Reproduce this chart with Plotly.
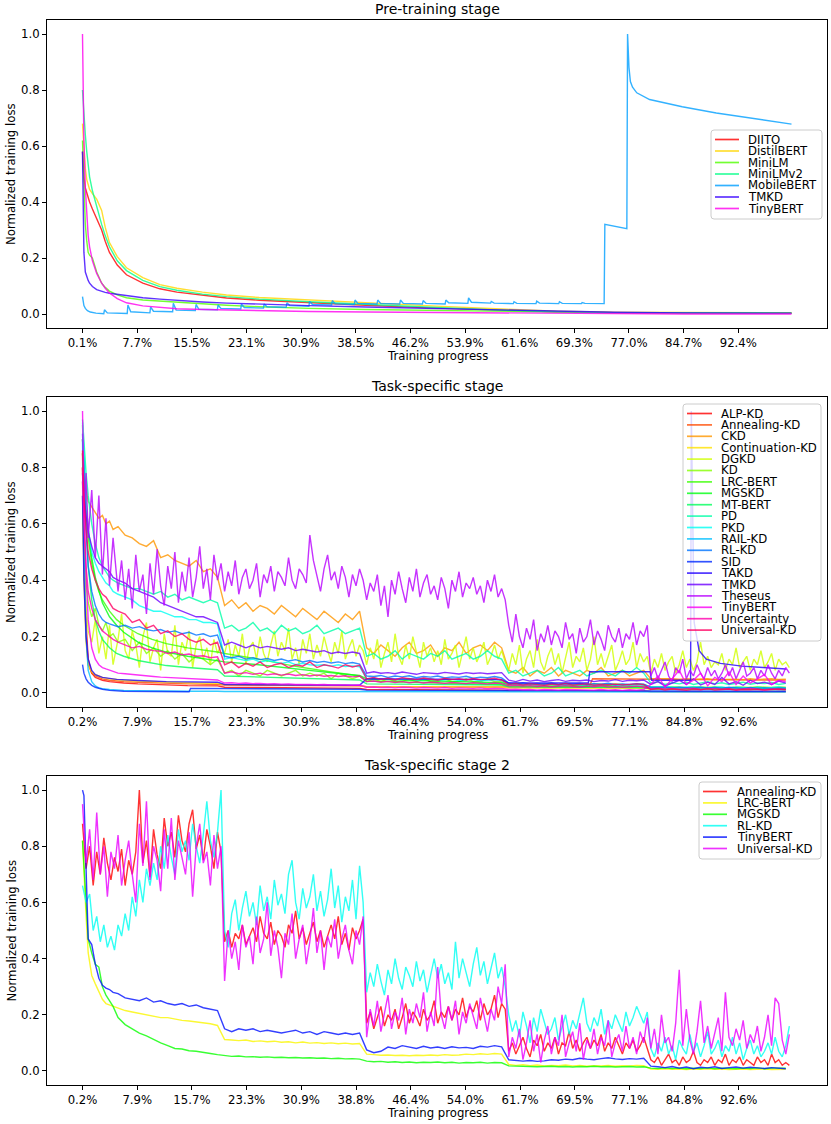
import numpy as np
import plotly.graph_objects as go
from plotly.subplots import make_subplots

# ------------------------------------------------------------------ data
# ---------- Panel 1: Pre-training stage ----------
P1_TICKVALS = [0.1 + 7.7 * i for i in range(13)]
P1_TICKTEXT = ['0.1%', '7.7%', '15.5%', '23.1%', '30.9%', '38.5%', '46.2%', '53.9%',
               '61.6%', '69.3%', '77.0%', '84.7%', '92.4%']
P1_NAMES = ['DIITO', 'DistilBERT', 'MiniLM', 'MiniLMv2', 'MobileBERT', 'TMKD', 'TinyBERT']

X1 = [0.1, 0.3, 0.5, 0.7, 0.9, 1.1, 1.5, 2.1, 2.8, 3.3, 3.9, 5.0, 6.3, 8.6, 11.0, 13.4,
      17.0, 20.4, 25.0, 32.0, 40.0, 50.0, 60.0, 67.0, 75.0, 85.0, 100.0]
DIITO_1 = [0.58, 0.49, 0.45, 0.43, 0.42, 0.40, 0.375, 0.34, 0.30, 0.26, 0.22, 0.175, 0.14, 0.11,
           0.09, 0.078, 0.066, 0.057, 0.049, 0.040, 0.031, 0.021, 0.012, 0.008, 0.005, 0.004, 0.003]
DISTILBERT_1 = [0.68, 0.58, 0.52, 0.48, 0.46, 0.445, 0.43, 0.41, 0.37, 0.31, 0.255, 0.205, 0.165,
                0.13, 0.105, 0.092, 0.078, 0.068, 0.059, 0.050, 0.040, 0.028, 0.017, 0.010, 0.006,
                0.005, 0.004]
MINILM_1 = [0.62, 0.42, 0.32, 0.26, 0.22, 0.21, 0.20, 0.15, 0.11, 0.095, 0.082, 0.068, 0.058, 0.050,
            0.046, 0.042, 0.036, 0.031, 0.026, 0.020, 0.016, 0.012, 0.009, 0.007, 0.005, 0.004, 0.003]
MINILMV2_1 = [0.80, 0.70, 0.64, 0.58, 0.53, 0.49, 0.44, 0.38, 0.32, 0.28, 0.24, 0.19, 0.155, 0.12,
              0.098, 0.085, 0.071, 0.062, 0.053, 0.044, 0.034, 0.023, 0.013, 0.008, 0.005, 0.004, 0.003]
TMKD_1 = [0.58, 0.22, 0.15, 0.13, 0.12, 0.11, 0.098, 0.087, 0.080, 0.077, 0.074, 0.070, 0.065, 0.058,
          0.053, 0.048, 0.043, 0.039, 0.035, 0.030, 0.025, 0.019, 0.013, 0.009, 0.006, 0.004, 0.003]
TINYBERT_1 = [1.0, 0.62, 0.45, 0.35, 0.28, 0.24, 0.19, 0.145, 0.11, 0.092, 0.075, 0.055, 0.040, 0.029,
              0.023, 0.019, 0.016, 0.014, 0.012, 0.009, 0.007, 0.005, 0.003, 0.002, 0.001, 0.0, 0.0]
MOBILE_X = [0.1, 0.3, 0.5, 0.8, 1.2, 2.0, 3.1,
            3.2, 3.6, 6.4, 6.5, 6.9, 9.6, 9.7, 10.1, 12.8, 12.9, 13.3, 16.0,
            16.1, 16.5, 19.1, 19.2, 19.6, 22.4, 22.5, 22.9, 25.6, 25.7, 26.1, 28.8,
            28.9, 29.3, 32.0, 32.1, 32.5, 35.2, 35.3, 35.7, 38.4, 38.5, 38.9, 41.6,
            41.7, 42.1, 44.8, 44.9, 45.3, 48.0, 48.1, 48.5, 51.2, 51.3, 51.7, 54.4,
            54.5, 54.9, 57.6, 57.7, 58.1, 60.8, 60.9, 61.3, 64.0, 64.1, 64.5, 67.2,
            67.3, 67.7, 70.4, 70.5, 70.9, 73.6,
            73.7, 76.8, 76.9, 77.1, 77.3, 77.6, 78.2, 80.0, 84.6, 89.4, 94.0, 100.0]
MOBILE_Y = [0.062, 0.030, 0.020, 0.012, 0.007, 0.003, 0.001,
            0.015, 0.004, 0.002, 0.032, 0.008, 0.004, 0.025, 0.010, 0.008, 0.038, 0.014, 0.012,
            0.034, 0.017, 0.015, 0.032, 0.020, 0.018, 0.035, 0.023, 0.021, 0.036, 0.026, 0.024,
            0.040, 0.030, 0.028, 0.045, 0.034, 0.032, 0.048, 0.036, 0.034, 0.050, 0.038, 0.036,
            0.050, 0.038, 0.036, 0.050, 0.038, 0.036, 0.048, 0.038, 0.036, 0.050, 0.040, 0.038,
            0.058, 0.042, 0.039, 0.045, 0.039, 0.037, 0.044, 0.038, 0.037, 0.046, 0.039, 0.037,
            0.044, 0.038, 0.037, 0.041, 0.038, 0.037,
            0.320, 0.305, 1.000, 0.880, 0.830, 0.810, 0.790, 0.766, 0.740, 0.718, 0.700, 0.678]

# ---------- Panel 2: Task-specific stage ----------
P23_TICKVALS = [0.2 + 7.7 * i for i in range(13)]
P23_TICKTEXT = ['0.2%', '7.9%', '15.7%', '23.3%', '30.9%', '38.8%', '46.4%', '54.0%',
                '61.7%', '69.5%', '77.1%', '84.8%', '92.6%']
P2_NAMES = ['ALP-KD', 'Annealing-KD', 'CKD', 'Continuation-KD', 'DGKD', 'KD', 'LRC-BERT', 'MGSKD',
            'MT-BERT', 'PD', 'PKD', 'RAIL-KD', 'RL-KD', 'SID', 'TAKD', 'TMKD', 'Theseus',
            'TinyBERT', 'Uncertainty', 'Universal-KD']

EARLY2 = [0.2, 0.4, 0.7, 1.0, 1.5, 2.0, 2.5, 3.0, 3.5, 4.0, 4.5, 5.2]
# progress grid with 1% steps after the early points
X2 = EARLY2 + [round(6.2 + i, 1) for i in range(94)]
# finer progress grid (0.5% steps) for the noisiest curves
XT2 = EARLY2 + [round(5.7 + 0.5 * i, 1) for i in range(189)]
# sparse progress grid for the smooth curves
XS2 = [0.2, 0.4, 0.7, 1, 1.5, 2, 2.5, 3, 4, 5, 6, 8, 10, 12, 15, 19.2,
       20.2, 25, 30, 35, 39.2, 40.2, 45, 50, 55, 59.2, 60.2, 65, 71.5, 72, 79.2,
       80.2, 85, 90, 95, 99.2]

ALP_KD_2 = [0.85, 0.50, 0.25, 0.12, 0.07, 0.055, 0.05, 0.045, 0.04, 0.037, 0.035, 0.032, 0.03, 0.028, 0.026, 0.025,
            0.02, 0.019, 0.018, 0.017, 0.016, 0.012, 0.012, 0.011, 0.011, 0.010,
            0.008, 0.008, 0.008, 0.007, 0.007, 0.005, 0.005, 0.005, 0.004, 0.004]
ANNEALING_KD_2 = [0.80, 0.45, 0.20, 0.10, 0.07, 0.06, 0.055, 0.05, 0.045, 0.042, 0.04, 0.038, 0.036, 0.034, 0.032, 0.03,
                  0.028, 0.027, 0.026, 0.025, 0.025, 0.022, 0.022, 0.021, 0.021, 0.02,
                  0.02, 0.02, 0.02, 0.05, 0.048, 0.048, 0.047, 0.047, 0.046, 0.046]
CONTINUATION_KD_2 = [0.75, 0.40, 0.18, 0.10, 0.075, 0.065, 0.06, 0.055, 0.05, 0.047, 0.045, 0.042, 0.04, 0.038, 0.036, 0.034,
                     0.03, 0.029, 0.028, 0.027, 0.026, 0.022, 0.021, 0.021, 0.02, 0.02,
                     0.017, 0.017, 0.016, 0.016, 0.016, 0.013, 0.013, 0.012, 0.012, 0.012]
LRC_BERT_2 = [0.85, 0.75, 0.63, 0.55, 0.46, 0.40, 0.36, 0.33, 0.29, 0.26, 0.24, 0.21, 0.19, 0.175, 0.16, 0.145,
              0.14, 0.12, 0.095, 0.075, 0.06, 0.042, 0.038, 0.035, 0.032, 0.03,
              0.025, 0.023, 0.021, 0.021, 0.019, 0.015, 0.014, 0.013, 0.012, 0.012]
MGSKD_2 = [0.90, 0.80, 0.68, 0.58, 0.48, 0.41, 0.36, 0.32, 0.27, 0.24, 0.215, 0.18, 0.16, 0.145, 0.13, 0.115,
           0.11, 0.10, 0.085, 0.072, 0.062, 0.05, 0.046, 0.042, 0.039, 0.036,
           0.03, 0.028, 0.026, 0.026, 0.024, 0.02, 0.019, 0.018, 0.017, 0.017]
MT_BERT_2 = [0.95, 0.80, 0.60, 0.45, 0.33, 0.26, 0.22, 0.19, 0.16, 0.14, 0.13, 0.115, 0.105, 0.097, 0.09, 0.082,
             0.06, 0.056, 0.052, 0.049, 0.046, 0.032, 0.031, 0.03, 0.029, 0.028,
             0.022, 0.021, 0.02, 0.02, 0.019, 0.015, 0.015, 0.014, 0.014, 0.014]
RAIL_KD_2 = [0.90, 0.50, 0.20, 0.08, 0.04, 0.025, 0.018, 0.015, 0.012, 0.01, 0.009, 0.008, 0.007, 0.007, 0.006, 0.006,
             0.005, 0.005, 0.005, 0.004, 0.004, 0.004, 0.004, 0.004, 0.004, 0.004,
             0.003, 0.003, 0.003, 0.003, 0.003, 0.003, 0.003, 0.003, 0.003, 0.003]
SID_X = [0.2, 0.4, 0.7, 1.0, 1.5, 2.0, 3.0, 4.0, 6.0, 8.0, 10.0, 12.0, 15.2, 15.4, 20.0, 30.0,
         39.2, 40.2, 50.0, 60.0, 70.0, 80.0, 90.0, 99.2]
SID_Y = [0.10, 0.07, 0.05, 0.038, 0.027, 0.02, 0.013, 0.009, 0.006, 0.005, 0.004, 0.004, 0.004, 0.016, 0.015, 0.014,
         0.013, 0.010, 0.010, 0.009, 0.008, 0.007, 0.006, 0.006]
TAKD_X = [0.2, 0.4, 0.7, 1.0, 1.5, 2.0, 3.0, 5.0, 8.0, 12.0, 19.2, 20.2, 30.0, 39.2, 40.2, 50.0, 59.2,
          60.2, 71.4, 71.6, 80.1, 80.3, 85.8, 85.9, 86.3, 87.0, 88.0, 90.0, 93.0, 96.0, 99.2]
TAKD_Y = [0.70, 0.40, 0.20, 0.12, 0.08, 0.065, 0.055, 0.048, 0.044, 0.040, 0.038, 0.030, 0.028, 0.027, 0.05, 0.048, 0.047,
          0.035, 0.035, 0.075, 0.075, 0.045, 0.045, 1.00, 0.25, 0.15, 0.12, 0.105, 0.095, 0.09, 0.085]

CKD_2 = [0.90, 0.80, 0.72, 0.68, 0.66, 0.64, 0.62, 0.63, 0.60, 0.61, 0.58, 0.59,
         0.56, 0.55, 0.53, 0.52, 0.54, 0.48, 0.49, 0.47, 0.46, 0.45, 0.47, 0.43, 0.44, 0.41,
         0.31, 0.33, 0.30, 0.32, 0.29, 0.31, 0.30, 0.28, 0.31, 0.29, 0.27, 0.30, 0.28, 0.26, 0.29, 0.27, 0.25, 0.28, 0.26, 0.29,
         0.16, 0.14, 0.17, 0.15, 0.13, 0.16, 0.18, 0.14, 0.15, 0.17, 0.13, 0.16, 0.15, 0.18, 0.14, 0.16, 0.17, 0.15, 0.18, 0.16,
         0.08, 0.07, 0.09, 0.06, 0.08, 0.07, 0.09, 0.06, 0.08, 0.07, 0.06, 0.08, 0.07, 0.09, 0.06, 0.07, 0.08, 0.06, 0.07, 0.08,
         0.05, 0.05, 0.048, 0.05, 0.047, 0.05, 0.048, 0.049, 0.05, 0.047, 0.048, 0.05, 0.049, 0.047, 0.05, 0.048, 0.049, 0.05, 0.048, 0.049]
DGKD_2 = [0.70, 0.45, 0.30, 0.22, 0.18, 0.26, 0.14, 0.20, 0.12, 0.24, 0.10, 0.19,
          0.28, 0.15, 0.12, 0.22, 0.17, 0.09, 0.20, 0.25, 0.11, 0.16, 0.19, 0.08, 0.21, 0.14, 0.13,
          0.24, 0.10, 0.18, 0.15, 0.22, 0.09, 0.17, 0.20, 0.12, 0.16, 0.10, 0.19, 0.14, 0.17,
          0.14, 0.19, 0.11, 0.17, 0.13, 0.21, 0.10, 0.16, 0.18, 0.12, 0.20, 0.14, 0.11, 0.17, 0.22, 0.13, 0.18, 0.15, 0.23, 0.12,
          0.16, 0.10, 0.19, 0.14, 0.21, 0.12, 0.17, 0.13, 0.20, 0.15, 0.11, 0.18, 0.14, 0.22, 0.12, 0.16, 0.19, 0.13, 0.17, 0.15,
          0.10, 0.16, 0.12, 0.19, 0.09, 0.14, 0.18, 0.11, 0.21, 0.13, 0.10, 0.17, 0.12, 0.20, 0.14, 0.09, 0.18, 0.13, 0.16, 0.11,
          0.15, 0.10, 0.19, 0.12, 0.14, 0.17, 0.09, 0.15, 0.20, 0.12, 0.16, 0.11, 0.14, 0.18, 0.10, 0.13, 0.17, 0.12, 0.15, 0.11,
          0.08, 0.14, 0.10, 0.17, 0.07, 0.12, 0.15, 0.09, 0.19, 0.11, 0.08, 0.13, 0.16, 0.10, 0.14, 0.07, 0.12, 0.18, 0.09, 0.13,
          0.11, 0.16, 0.08, 0.12, 0.20, 0.10, 0.14, 0.09, 0.13, 0.17, 0.08, 0.11, 0.15, 0.10, 0.12, 0.18, 0.09, 0.14, 0.11, 0.13,
          0.07, 0.12, 0.09, 0.14, 0.08, 0.11, 0.13, 0.07, 0.10, 0.15, 0.09, 0.12, 0.08, 0.11, 0.18, 0.10, 0.13, 0.09, 0.11, 0.10,
          0.14, 0.08, 0.12, 0.10, 0.16, 0.09, 0.11, 0.13, 0.08, 0.12, 0.10, 0.15, 0.09, 0.11, 0.14, 0.08, 0.12, 0.10, 0.11, 0.09]
KD_2 = [0.80, 0.55, 0.40, 0.32, 0.27, 0.30, 0.24, 0.22, 0.25, 0.20, 0.21, 0.18,
        0.19, 0.15, 0.18, 0.14, 0.16, 0.13, 0.15, 0.12, 0.14, 0.11, 0.13, 0.12, 0.10, 0.12,
        0.07, 0.08, 0.06, 0.08, 0.07, 0.06, 0.08, 0.07, 0.06, 0.07, 0.08, 0.06, 0.07, 0.06, 0.07, 0.05, 0.07, 0.06, 0.05, 0.06,
        0.04, 0.05, 0.04, 0.05, 0.04, 0.04, 0.05, 0.04, 0.05, 0.04, 0.04, 0.05, 0.04, 0.04, 0.05, 0.04, 0.04, 0.05, 0.04, 0.04,
        0.030, 0.035, 0.030, 0.032, 0.028, 0.033, 0.030, 0.029, 0.034, 0.030, 0.031, 0.028, 0.033, 0.030, 0.029, 0.032, 0.030, 0.028, 0.031, 0.030,
        0.020, 0.022, 0.019, 0.021, 0.020, 0.018, 0.022, 0.020, 0.019, 0.021, 0.020, 0.018, 0.021, 0.020, 0.019, 0.022, 0.020, 0.019, 0.021, 0.020]
PD_2 = [0.97, 0.88, 0.78, 0.70, 0.60, 0.53, 0.48, 0.45, 0.43, 0.41, 0.40, 0.39,
        0.38, 0.37, 0.37, 0.36, 0.35, 0.36, 0.34, 0.35, 0.33, 0.34, 0.33, 0.32, 0.33, 0.32,
        0.23, 0.24, 0.22, 0.23, 0.25, 0.22, 0.23, 0.21, 0.24, 0.22, 0.23, 0.21, 0.22, 0.24, 0.21, 0.22, 0.23, 0.21, 0.22, 0.23,
        0.13, 0.14, 0.12, 0.13, 0.15, 0.12, 0.14, 0.13, 0.12, 0.14, 0.13, 0.15, 0.12, 0.13, 0.14, 0.12, 0.13, 0.15, 0.13, 0.12,
        0.07, 0.08, 0.06, 0.07, 0.08, 0.06, 0.07, 0.09, 0.06, 0.07, 0.08, 0.06, 0.07, 0.08, 0.07, 0.06, 0.08, 0.07, 0.09, 0.07,
        0.035, 0.04, 0.03, 0.036, 0.032, 0.038, 0.03, 0.035, 0.04, 0.032, 0.036, 0.03, 0.034, 0.038, 0.031, 0.035, 0.033, 0.037, 0.03, 0.034]
PKD_2 = [0.96, 0.82, 0.68, 0.58, 0.50, 0.46, 0.43, 0.41, 0.39, 0.38, 0.36, 0.35,
         0.34, 0.33, 0.31, 0.30, 0.29, 0.29, 0.28, 0.27, 0.27, 0.26, 0.26, 0.25, 0.25, 0.245,
         0.12, 0.125, 0.12, 0.115, 0.12, 0.11, 0.115, 0.11, 0.105, 0.11, 0.10, 0.105, 0.10, 0.098, 0.10, 0.095, 0.10, 0.094, 0.096, 0.093,
         0.05, 0.052, 0.048, 0.05, 0.047, 0.049, 0.051, 0.046, 0.048, 0.05, 0.045, 0.047, 0.049, 0.044, 0.046, 0.048, 0.043, 0.045, 0.047, 0.044,
         0.03, 0.032, 0.029, 0.031, 0.028, 0.03, 0.032, 0.027, 0.029, 0.031, 0.028, 0.03, 0.027, 0.029, 0.031, 0.028, 0.026, 0.029, 0.03, 0.027,
         0.02, 0.022, 0.019, 0.021, 0.018, 0.02, 0.022, 0.019, 0.017, 0.02, 0.021, 0.018, 0.02, 0.019, 0.017, 0.02, 0.018, 0.019, 0.021, 0.018]
RL_KD_2 = [0.92, 0.75, 0.58, 0.45, 0.36, 0.31, 0.28, 0.26, 0.25, 0.245, 0.24, 0.235,
           0.24, 0.23, 0.235, 0.225, 0.22, 0.225, 0.215, 0.22, 0.21, 0.215, 0.205, 0.21, 0.20, 0.205,
           0.13, 0.125, 0.13, 0.12, 0.125, 0.118, 0.122, 0.115, 0.12, 0.113, 0.118, 0.11, 0.115, 0.108, 0.112, 0.106, 0.11, 0.104, 0.108, 0.102,
           0.06, 0.058, 0.062, 0.055, 0.06, 0.057, 0.061, 0.054, 0.058, 0.056, 0.06, 0.053, 0.057, 0.055, 0.059, 0.052, 0.056, 0.054, 0.058, 0.053,
           0.035, 0.033, 0.036, 0.032, 0.034, 0.031, 0.035, 0.03, 0.033, 0.032, 0.034, 0.03, 0.033, 0.031, 0.034, 0.029, 0.032, 0.03, 0.033, 0.031,
           0.02, 0.019, 0.021, 0.018, 0.02, 0.019, 0.017, 0.02, 0.018, 0.019, 0.017, 0.02, 0.018, 0.016, 0.019, 0.017, 0.018, 0.016, 0.018, 0.017]
TMKD_2 = [0.78, 0.70, 0.63, 0.57, 0.52, 0.48, 0.46, 0.45, 0.44, 0.43, 0.41, 0.40,
          0.39, 0.37, 0.36, 0.35, 0.34, 0.32, 0.31, 0.30, 0.29, 0.28, 0.27, 0.27, 0.26, 0.25,
          0.17, 0.18, 0.17, 0.16, 0.17, 0.16, 0.165, 0.16, 0.155, 0.16, 0.15, 0.155, 0.15, 0.145, 0.15, 0.14, 0.145, 0.14, 0.145, 0.14,
          0.07, 0.075, 0.07, 0.072, 0.068, 0.074, 0.07, 0.066, 0.072, 0.07, 0.068, 0.073, 0.07, 0.067, 0.072, 0.069, 0.071, 0.068, 0.07, 0.072,
          0.045, 0.04, 0.048, 0.042, 0.046, 0.04, 0.044, 0.047, 0.041, 0.045, 0.043, 0.046, 0.04, 0.044, 0.042, 0.047, 0.041, 0.045, 0.043, 0.046,
          0.03, 0.04, 0.025, 0.035, 0.045, 0.03, 0.05, 0.028, 0.038, 0.03, 0.055, 0.032, 0.04, 0.027, 0.045, 0.033, 0.038, 0.03, 0.042, 0.035]
THESEUS_2 = [0.75, 0.62, 0.78, 0.55, 0.72, 0.48, 0.70, 0.42, 0.62, 0.38, 0.55, 0.36,
             0.47, 0.33, 0.44, 0.30, 0.49, 0.36, 0.42, 0.28, 0.46, 0.35, 0.51, 0.38, 0.31, 0.45, 0.37,
             0.50, 0.32, 0.43, 0.36, 0.48, 0.34, 0.41, 0.52, 0.37, 0.44, 0.33, 0.49, 0.40, 0.46,
             0.36, 0.43, 0.38, 0.47, 0.35, 0.41, 0.44, 0.37, 0.40, 0.46, 0.34, 0.42, 0.39, 0.45, 0.36, 0.43, 0.41, 0.38, 0.48, 0.40,
             0.37, 0.44, 0.42, 0.39, 0.56, 0.47, 0.41, 0.36, 0.44, 0.49, 0.40, 0.43, 0.37, 0.45, 0.41, 0.34, 0.42, 0.38, 0.44, 0.40,
             0.33, 0.39, 0.36, 0.42, 0.31, 0.38, 0.27, 0.40, 0.35, 0.43, 0.37, 0.32, 0.41, 0.36, 0.44, 0.34, 0.39, 0.42, 0.35, 0.38,
             0.33, 0.41, 0.37, 0.30, 0.40, 0.36, 0.43, 0.34, 0.39, 0.37, 0.41, 0.35, 0.38, 0.32, 0.40, 0.36, 0.42, 0.34, 0.37, 0.33,
             0.24, 0.18, 0.28, 0.20, 0.16, 0.23, 0.19, 0.26, 0.15, 0.21, 0.18, 0.24, 0.17, 0.22, 0.20, 0.16, 0.25, 0.19, 0.21, 0.14,
             0.23, 0.18, 0.20, 0.26, 0.17, 0.22, 0.19, 0.15, 0.24, 0.20, 0.18, 0.23, 0.16, 0.21, 0.19, 0.25, 0.17, 0.22, 0.20, 0.24,
             0.06, 0.09, 0.05, 0.08, 0.11, 0.06, 0.04, 0.09, 0.07, 0.12, 0.05, 0.08, 0.06, 0.10, 0.07, 0.05, 0.09, 0.06, 0.08, 0.05,
             0.07, 0.10, 0.06, 0.09, 0.05, 0.08, 0.11, 0.06, 0.07, 0.09, 0.05, 0.08, 0.06, 0.10, 0.07, 0.05, 0.08, 0.06, 0.09, 0.07]
TINYBERT_2 = [1.00, 0.70, 0.42, 0.26, 0.16, 0.12, 0.10, 0.09, 0.085, 0.08, 0.075, 0.07,
              0.068, 0.065, 0.062, 0.06, 0.058, 0.056, 0.055, 0.053, 0.052, 0.05, 0.049, 0.048, 0.047, 0.046,
              0.035, 0.036, 0.034, 0.035, 0.033, 0.034, 0.032, 0.033, 0.031, 0.032, 0.03, 0.031, 0.03, 0.029, 0.03, 0.028, 0.029, 0.028, 0.027, 0.028,
              0.02, 0.021, 0.019, 0.02, 0.018, 0.02, 0.019, 0.017, 0.019, 0.018, 0.017, 0.019, 0.016, 0.018, 0.017, 0.016, 0.018, 0.015, 0.017, 0.016,
              0.012, 0.013, 0.011, 0.012, 0.01, 0.012, 0.011, 0.01, 0.012, 0.011, 0.01, 0.011, 0.01, 0.012, 0.01, 0.011, 0.009, 0.011, 0.01, 0.012,
              0.03, 0.06, 0.02, 0.05, 0.08, 0.03, 0.045, 0.07, 0.025, 0.055, 0.04, 0.075, 0.03, 0.06, 0.035, 0.05, 0.065, 0.03, 0.045, 0.04]
UNCERTAINTY_2 = [0.80, 0.60, 0.45, 0.36, 0.30, 0.26, 0.24, 0.22, 0.21, 0.20, 0.19, 0.18,
                 0.17, 0.16, 0.165, 0.155, 0.15, 0.148, 0.14, 0.145, 0.135, 0.138, 0.13, 0.132, 0.125, 0.128,
                 0.07, 0.075, 0.068, 0.072, 0.066, 0.07, 0.064, 0.068, 0.063, 0.067, 0.062, 0.065, 0.06, 0.064, 0.059, 0.062, 0.058, 0.061, 0.057, 0.06,
                 0.04, 0.042, 0.038, 0.041, 0.037, 0.04, 0.036, 0.039, 0.035, 0.038, 0.036, 0.034, 0.037, 0.035, 0.033, 0.036, 0.034, 0.032, 0.035, 0.033,
                 0.025, 0.027, 0.024, 0.026, 0.023, 0.025, 0.022, 0.024, 0.026, 0.023, 0.021, 0.024, 0.022, 0.025, 0.021, 0.023, 0.02, 0.022, 0.024, 0.021,
                 0.015, 0.017, 0.014, 0.016, 0.013, 0.015, 0.017, 0.012, 0.014, 0.016, 0.013, 0.015, 0.012, 0.014, 0.016, 0.013, 0.011, 0.014, 0.012, 0.013]
UNIVERSAL_KD_2 = [0.86, 0.70, 0.58, 0.50, 0.44, 0.40, 0.37, 0.35, 0.34, 0.32, 0.30, 0.29,
                  0.28, 0.25, 0.26, 0.23, 0.24, 0.21, 0.22, 0.20, 0.21, 0.19, 0.18, 0.19, 0.17, 0.18,
                  0.10, 0.11, 0.09, 0.105, 0.095, 0.11, 0.09, 0.10, 0.105, 0.09, 0.10, 0.095, 0.11, 0.09, 0.10, 0.095, 0.088, 0.10, 0.092, 0.098,
                  0.05, 0.055, 0.048, 0.052, 0.046, 0.054, 0.05, 0.047, 0.053, 0.049, 0.045, 0.052, 0.048, 0.05, 0.046, 0.051, 0.047, 0.049, 0.052, 0.046,
                  0.03, 0.033, 0.028, 0.032, 0.03, 0.027, 0.031, 0.029, 0.033, 0.028, 0.03, 0.032, 0.027, 0.03, 0.029, 0.031, 0.028, 0.03, 0.032, 0.029,
                  0.012, 0.015, 0.01, 0.014, 0.012, 0.009, 0.013, 0.011, 0.015, 0.01, 0.012, 0.014, 0.009, 0.012, 0.011, 0.013, 0.01, 0.012, 0.014, 0.011]

# ---------- Panel 3: Task-specific stage 2 ----------
P3_NAMES = ['Annealing-KD', 'LRC-BERT', 'MGSKD', 'RL-KD', 'TinyBERT', 'Universal-KD']
X3N = [round(0.2 + 0.5 * i, 2) for i in range(200)]   # 0.5% progress grid

ANNEALING_KD_3 = [
    0.88, 0.72, 0.80, 0.66, 0.78, 0.70, 0.83, 0.74, 0.68, 0.76, 0.71, 0.79, 0.66, 0.75, 0.70, 0.78, 1.00, 0.74, 0.82, 0.69,
    0.86, 0.77, 0.72, 0.90, 0.80, 0.85, 0.76, 0.91, 0.82, 0.78, 0.88, 0.93, 0.79, 0.84, 0.75, 0.86, 0.80, 0.72, 0.85, 0.78,
    0.46, 0.50, 0.44, 0.49, 0.47, 0.52, 0.45, 0.48, 0.51, 0.46, 0.55, 0.49, 0.47, 0.53, 0.45, 0.50, 0.48, 0.44, 0.52, 0.49,
    0.57, 0.47, 0.51, 0.45, 0.49, 0.53, 0.46, 0.50, 0.44, 0.48, 0.52, 0.47, 0.55, 0.45, 0.49, 0.43, 0.51, 0.47, 0.50, 0.54,
    0.17, 0.21, 0.15, 0.19, 0.23, 0.16, 0.20, 0.18, 0.22, 0.15, 0.19, 0.24, 0.17, 0.21, 0.19, 0.16, 0.22, 0.18, 0.20, 0.25,
    0.17, 0.21, 0.19, 0.23, 0.18, 0.22, 0.20, 0.26, 0.19, 0.23, 0.21, 0.25, 0.18, 0.24, 0.20, 0.22, 0.27, 0.19, 0.24, 0.22,
    0.07, 0.10, 0.06, 0.09, 0.12, 0.08, 0.05, 0.11, 0.09, 0.13, 0.07, 0.10, 0.08, 0.12, 0.06, 0.10, 0.09, 0.14, 0.08, 0.11,
    0.07, 0.10, 0.12, 0.08, 0.11, 0.09, 0.13, 0.07, 0.10, 0.08, 0.12, 0.09, 0.06, 0.10, 0.08, 0.11, 0.07, 0.09, 0.12, 0.08,
    0.04, 0.03, 0.05, 0.02, 0.04, 0.06, 0.03, 0.04, 0.02, 0.05, 0.03, 0.04, 0.07, 0.03, 0.02, 0.04, 0.03, 0.05, 0.02, 0.04,
    0.03, 0.06, 0.02, 0.04, 0.03, 0.05, 0.02, 0.04, 0.03, 0.02, 0.05, 0.03, 0.04, 0.02, 0.06, 0.03, 0.04, 0.02, 0.03, 0.02]
RL_KD_3 = [
    0.66, 0.60, 0.63, 0.50, 0.55, 0.46, 0.52, 0.44, 0.48, 0.43, 0.52, 0.48, 0.56, 0.50, 0.62, 0.55, 0.68, 0.60, 0.72, 0.66,
    0.74, 0.68, 0.80, 0.72, 0.84, 0.76, 0.70, 0.86, 0.78, 0.82, 0.75, 0.88, 0.80, 0.74, 0.84, 0.96, 0.82, 0.76, 0.85, 1.00,
    0.50, 0.44, 0.56, 0.61, 0.50, 0.58, 0.64, 0.55, 0.60, 0.52, 0.66, 0.57, 0.62, 0.54, 0.68, 0.59, 0.63, 0.56, 0.70, 0.75,
    0.60, 0.54, 0.65, 0.58, 0.62, 0.70, 0.57, 0.64, 0.55, 0.61, 0.72, 0.58, 0.66, 0.53, 0.62, 0.57, 0.68, 0.54, 0.73, 0.60,
    0.28, 0.35, 0.30, 0.38, 0.32, 0.27, 0.36, 0.31, 0.40, 0.33, 0.29, 0.37, 0.34, 0.30, 0.39, 0.32, 0.36, 0.28, 0.34, 0.40,
    0.33, 0.38, 0.31, 0.35, 0.29, 0.46, 0.33, 0.40, 0.35, 0.30, 0.38, 0.44, 0.34, 0.39, 0.31, 0.36, 0.42, 0.33, 0.37, 0.30,
    0.20, 0.14, 0.18, 0.12, 0.21, 0.16, 0.10, 0.19, 0.14, 0.22, 0.17, 0.13, 0.15, 0.19, 0.11, 0.16, 0.20, 0.13, 0.18, 0.15,
    0.21, 0.26, 0.17, 0.14, 0.19, 0.16, 0.22, 0.13, 0.18, 0.15, 0.20, 0.17, 0.14, 0.21, 0.16, 0.19, 0.23, 0.20, 0.17, 0.21,
    0.08, 0.05, 0.10, 0.07, 0.12, 0.06, 0.09, 0.04, 0.11, 0.08, 0.06, 0.13, 0.07, 0.10, 0.05, 0.09, 0.14, 0.06, 0.08, 0.11,
    0.05, 0.09, 0.07, 0.12, 0.06, 0.10, 0.04, 0.08, 0.11, 0.06, 0.09, 0.05, 0.07, 0.10, 0.06, 0.12, 0.07, 0.05, 0.09, 0.16]
UNIVERSAL_KD_3 = [
    0.95, 0.74, 0.86, 0.68, 0.92, 0.70, 0.80, 0.62, 0.78, 0.72, 0.84, 0.66, 0.75, 0.82, 0.70, 0.60, 0.88, 0.73, 0.96, 0.68,
    0.80, 0.75, 0.64, 0.86, 0.72, 0.90, 0.68, 0.82, 0.76, 0.70, 0.85, 0.62, 0.80, 0.88, 0.74, 0.78, 0.66, 0.84, 0.72, 0.80,
    0.32, 0.50, 0.40, 0.46, 0.36, 0.52, 0.44, 0.48, 0.38, 0.55, 0.42, 0.47, 0.60, 0.41, 0.50, 0.44, 0.33, 0.49, 0.45, 0.56,
    0.40, 0.47, 0.52, 0.38, 0.46, 0.58, 0.42, 0.50, 0.36, 0.48, 0.44, 0.54, 0.40, 0.47, 0.52, 0.43, 0.38, 0.50, 0.45, 0.55,
    0.12, 0.22, 0.16, 0.25, 0.14, 0.20, 0.27, 0.15, 0.21, 0.18, 0.26, 0.13, 0.22, 0.17, 0.24, 0.19, 0.28, 0.14, 0.21, 0.16,
    0.37, 0.20, 0.15, 0.23, 0.18, 0.25, 0.13, 0.21, 0.17, 0.24, 0.19, 0.15, 0.26, 0.20, 0.14, 0.22, 0.18, 0.30, 0.24, 0.38,
    0.05, 0.12, 0.08, 0.15, 0.04, 0.10, 0.18, 0.07, 0.13, 0.03, 0.11, 0.16, 0.06, 0.12, 0.09, 0.20, 0.05, 0.10, 0.14, 0.07,
    0.17, 0.04, 0.11, 0.08, 0.15, 0.06, 0.12, 0.09, 0.18, 0.05, 0.10, 0.13, 0.07, 0.16, 0.08, 0.12, 0.06, 0.14, 0.10, 0.19,
    0.08, 0.15, 0.06, 0.20, 0.10, 0.12, 0.07, 0.17, 0.36, 0.09, 0.22, 0.11, 0.06, 0.14, 0.25, 0.10, 0.16, 0.08, 0.13, 0.19,
    0.07, 0.28, 0.12, 0.09, 0.15, 0.11, 0.18, 0.08, 0.13, 0.10, 0.16, 0.07, 0.12, 0.20, 0.09, 0.26, 0.24, 0.11, 0.06, 0.13]
TINYBERT_3 = [1.00, 0.98, 0.72, 0.47, 0.45, 0.38, 0.33, 0.305, 0.295, 0.29, 0.28, 0.275,
              0.26, 0.255, 0.25, 0.26, 0.245, 0.25, 0.24, 0.235, 0.24, 0.23, 0.235, 0.225, 0.22, 0.215,
              0.15, 0.14, 0.15, 0.145, 0.15, 0.14, 0.145, 0.14, 0.135, 0.14, 0.145, 0.135, 0.14, 0.13, 0.14, 0.135, 0.13, 0.135, 0.13, 0.135,
              0.075, 0.065, 0.07, 0.085, 0.08, 0.09, 0.085, 0.08, 0.088, 0.082, 0.085, 0.08, 0.086, 0.082, 0.084, 0.08, 0.088, 0.085, 0.09, 0.086,
              0.04, 0.038, 0.035, 0.037, 0.034, 0.036, 0.04, 0.038, 0.042, 0.04, 0.045, 0.042, 0.04, 0.044, 0.047, 0.043, 0.041, 0.044, 0.042, 0.045,
              0.017, 0.015, 0.012, 0.016, 0.01, 0.014, 0.008, 0.013, 0.011, 0.015, 0.009, 0.012, 0.014, 0.01, 0.013, 0.011, 0.009, 0.012, 0.01, 0.008]
LRC_BERT_3 = [0.82, 0.70, 0.55, 0.42, 0.34, 0.31, 0.28, 0.255, 0.24, 0.235, 0.23, 0.225,
              0.215, 0.21, 0.205, 0.20, 0.195, 0.19, 0.19, 0.185, 0.18, 0.178, 0.175, 0.17, 0.168, 0.162,
              0.112, 0.11, 0.108, 0.11, 0.105, 0.107, 0.104, 0.106, 0.102, 0.104, 0.10, 0.103, 0.099, 0.101, 0.098, 0.10, 0.097, 0.099, 0.096, 0.098,
              0.06, 0.058, 0.056, 0.057, 0.055, 0.056, 0.054, 0.056, 0.055, 0.057, 0.055, 0.058, 0.056, 0.057, 0.06, 0.058, 0.061, 0.059, 0.062, 0.06,
              0.023, 0.02, 0.022, 0.019, 0.021, 0.018, 0.02, 0.019, 0.021, 0.018, 0.02, 0.017, 0.019, 0.018, 0.02, 0.017, 0.019, 0.018, 0.02, 0.019,
              0.007, 0.006, 0.008, 0.006, 0.007, 0.005, 0.007, 0.006, 0.008, 0.006, 0.007, 0.005, 0.006, 0.007, 0.005, 0.006, 0.007, 0.005, 0.006, 0.006]
MGSKD_3 = [0.82, 0.72, 0.58, 0.47, 0.42, 0.38, 0.37, 0.30, 0.27, 0.25, 0.23, 0.19,
           0.165, 0.15, 0.135, 0.125, 0.112, 0.10, 0.09, 0.08, 0.078, 0.072, 0.07, 0.065, 0.062, 0.058,
           0.054, 0.052, 0.053, 0.05, 0.051, 0.049, 0.05, 0.048, 0.049, 0.047, 0.048, 0.046, 0.047, 0.045, 0.046, 0.044, 0.045, 0.043, 0.044, 0.042,
           0.035, 0.033, 0.034, 0.031, 0.033, 0.03, 0.032, 0.029, 0.031, 0.03, 0.032, 0.029, 0.031, 0.028, 0.03, 0.029, 0.031, 0.028, 0.03, 0.029,
           0.018, 0.017, 0.016, 0.017, 0.015, 0.016, 0.017, 0.015, 0.016, 0.014, 0.016, 0.015, 0.017, 0.015, 0.016, 0.014, 0.015, 0.016, 0.014, 0.015,
           0.01, 0.009, 0.011, 0.009, 0.01, 0.008, 0.01, 0.009, 0.011, 0.008, 0.01, 0.009, 0.008, 0.01, 0.009, 0.011, 0.008, 0.01, 0.009, 0.01]

# ------------------------------------------------------------------ styling
W, H = 831, 1124
ML, MR, MT, MB = 47, 4, 20, 39
PW, PH = W - ML - MR, H - MT - MB
ALPHA = 0.8
LW = 1.4
FONT = 'DejaVu Sans'
FS = 11.7      # tick / label / legend font size
FS_TITLE = 14


def fx(px):
    return (px - ML) / PW


def fy(py):
    return (H - MB - py) / PH


# matplotlib 'hsv' colormap segment data
_R = [(0.0, 1.0), (0.158730, 1.0), (0.174603, 0.96875), (0.333333, 0.03125), (0.349206, 0.0),
      (0.666667, 0.0), (0.682540, 0.03125), (0.841270, 0.96875), (0.857143, 1.0), (1.0, 1.0)]
_G = [(0.0, 0.0), (0.158730, 0.9375), (0.174603, 1.0), (0.507937, 1.0), (0.666667, 0.0625),
      (0.682540, 0.0), (1.0, 0.0)]
_B = [(0.0, 0.0), (0.333333, 0.0), (0.349206, 0.0625), (0.507937, 1.0), (0.841270, 1.0),
      (0.857143, 0.9375), (1.0, 0.09375)]


def hsv_color(t):
    out = []
    for seg in (_R, _G, _B):
        out.append(int(round(255 * float(np.interp(t, [p[0] for p in seg], [p[1] for p in seg])))))
    return 'rgb(%d,%d,%d)' % tuple(out)


def colors(n):
    return [hsv_color(i / n) for i in range(n)]


fig = make_subplots(rows=3, cols=1)


def add(row, xs, ys, name, color):
    assert len(xs) == len(ys), (name, len(xs), len(ys))
    fig.add_trace(go.Scatter(x=xs, y=ys, mode='lines', name=name, opacity=ALPHA,
                             line=dict(color=color, width=LW), showlegend=False,
                             hoverinfo='skip'), row=row, col=1)


c1 = colors(7)
p1 = [(X1, DIITO_1), (X1, DISTILBERT_1), (X1, MINILM_1), (X1, MINILMV2_1),
      (MOBILE_X, MOBILE_Y), (X1, TMKD_1), (X1, TINYBERT_1)]
for i, (xs, ys) in enumerate(p1):
    add(1, xs, ys, P1_NAMES[i], c1[i])

c2 = colors(20)
p2 = [(XS2, ALP_KD_2), (XS2, ANNEALING_KD_2), (X2, CKD_2), (XS2, CONTINUATION_KD_2), (XT2, DGKD_2),
      (X2, KD_2), (XS2, LRC_BERT_2), (XS2, MGSKD_2), (XS2, MT_BERT_2), (X2, PD_2), (X2, PKD_2),
      (XS2, RAIL_KD_2), (X2, RL_KD_2), (SID_X, SID_Y), (TAKD_X, TAKD_Y), (X2, TMKD_2),
      (XT2, THESEUS_2), (X2, TINYBERT_2), (X2, UNCERTAINTY_2), (X2, UNIVERSAL_KD_2)]
for i, (xs, ys) in enumerate(p2):
    add(2, xs, ys, P2_NAMES[i], c2[i])

c3 = colors(6)
p3 = [(X3N, ANNEALING_KD_3), (X2, LRC_BERT_3), (X2, MGSKD_3), (X3N, RL_KD_3),
      (X2, TINYBERT_3), (X3N, UNIVERSAL_KD_3)]
for i, (xs, ys) in enumerate(p3):
    add(3, xs, ys, P3_NAMES[i], c3[i])

# panel geometry in pixels (top, bottom)
PANELS = [(20, 328), (397, 707), (776, 1085)]
axis_common = dict(showline=True, linecolor='black', linewidth=1, mirror=True, ticks='outside',
                   ticklen=4, tickwidth=1, tickcolor='black', showgrid=False, zeroline=False,
                   tickfont=dict(family=FONT, size=FS, color='black'))
layout = dict(width=W, height=H, margin=dict(l=ML, r=MR, t=MT, b=MB), paper_bgcolor='white',
              plot_bgcolor='white', showlegend=False, font=dict(family=FONT, size=FS, color='black'))
for k, (top, bot) in enumerate(PANELS):
    sfx = '' if k == 0 else str(k + 1)
    tv, tt = (P1_TICKVALS, P1_TICKTEXT) if k == 0 else (P23_TICKVALS, P23_TICKTEXT)
    xr = [-4.9, 105.0] if k == 0 else [-4.8, 105.0]
    layout['xaxis' + sfx] = dict(axis_common, range=xr, tickvals=tv, ticktext=tt, domain=[0, 1])
    layout['yaxis' + sfx] = dict(axis_common, range=[-0.05, 1.05], domain=[fy(bot), fy(top)],
                                 tickvals=[0, 0.2, 0.4, 0.6, 0.8, 1.0],
                                 ticktext=['0.0', '0.2', '0.4', '0.6', '0.8', '1.0'])
fig.update_layout(**layout)

annotations = []
shapes = []
TITLES = ['Pre-training stage', 'Task-specific stage', 'Task-specific stage 2']
for k, (top, bot) in enumerate(PANELS):
    annotations.append(dict(text=TITLES[k], x=0.5, y=fy(top - 11), xref='paper', yref='paper',
                            xanchor='center', yanchor='middle', showarrow=False,
                            font=dict(family=FONT, size=FS_TITLE, color='black')))
    annotations.append(dict(text='Training progress', x=0.5, y=fy(bot + 28), xref='paper', yref='paper',
                            xanchor='center', yanchor='middle', showarrow=False,
                            font=dict(family=FONT, size=FS, color='black')))
    annotations.append(dict(text='Normalized training loss', x=fx(11), y=fy((top + bot) / 2),
                            xref='paper', yref='paper', xanchor='center', yanchor='middle',
                            textangle=-90, showarrow=False,
                            font=dict(family=FONT, size=FS, color='black')))


def legend(box, names, cols, y0, dy, lx0, lx1, tx):
    bx0, by0, bx1, by1 = box
    r = 3.0
    X0, X1_, Y0, Y1 = fx(bx0), fx(bx1), fy(by1), fy(by0)
    rx, ry = r / PW, r / PH
    path = (f"M {X0+rx},{Y0} L {X1_-rx},{Y0} Q {X1_},{Y0} {X1_},{Y0+ry} L {X1_},{Y1-ry} "
            f"Q {X1_},{Y1} {X1_-rx},{Y1} L {X0+rx},{Y1} Q {X0},{Y1} {X0},{Y1-ry} "
            f"L {X0},{Y0+ry} Q {X0},{Y0} {X0+rx},{Y0} Z")
    shapes.append(dict(type='path', path=path, xref='paper', yref='paper',
                       fillcolor='rgba(255,255,255,0.8)', line=dict(color='#cccccc', width=1),
                       layer='above'))
    for i, (n, c) in enumerate(zip(names, cols)):
        yy = fy(y0 + dy * i)
        shapes.append(dict(type='line', xref='paper', yref='paper', x0=fx(lx0), x1=fx(lx1),
                           y0=yy, y1=yy, line=dict(color=c, width=LW + 0.3), opacity=ALPHA,
                           layer='above'))
        annotations.append(dict(text=n, x=fx(tx), y=yy, xref='paper', yref='paper',
                                xanchor='left', yanchor='middle', showarrow=False,
                                font=dict(family=FONT, size=FS, color='black')))


legend((711, 130, 822, 219), P1_NAMES, c1, 139.5, 11.5, 715, 739, 746)
legend((683, 404, 821, 641), P2_NAMES, c2, 413.5, 11.4, 687, 712, 719)
legend((699, 782, 821, 859), P3_NAMES, c3, 791.5, 11.4, 703, 727, 735)

fig.update_layout(annotations=annotations, shapes=shapes)
fig.write_html("out.html", config={'displayModeBar': False},
               post_script="document.body.style.margin='0px';document.body.style.padding='0px';")
